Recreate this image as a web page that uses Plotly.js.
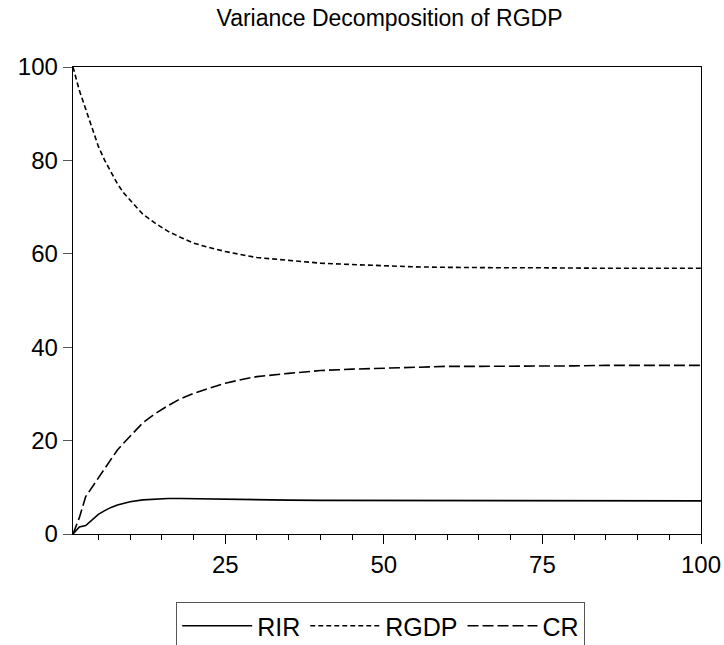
<!DOCTYPE html>
<html>
<head>
<meta charset="utf-8">
<script src="https://cdn.plot.ly/plotly-3.0.1.min.js"></script>
<style>html,body{margin:0;padding:0;background:#fff;}#chart{width:724px;height:645px;}</style>
</head>
<body>
<div id="chart"></div>
<script>
var periods = [1,2,3,4,5,6,7,8,9,10,12,14,16,18,20,22,25,28,30,35,40,45,50,55,60,65,70,75,80,85,90,95,100];
var rir  = [0,1.5,1.8,2.9,4.2,5.0,5.7,6.2,6.6,6.9,7.3,7.5,7.6,7.6,7.55,7.45,7.4,7.35,7.3,7.25,7.2,7.2,7.15,7.1,7.1,7.1,7.1,7.1,7.1,7.1,7.1,7.1,7.1];
var rgdp = [100,95,91,87,83,80,77.5,75,73,71.5,68.5,66.5,64.8,63.5,62.3,61.5,60.5,59.7,59.2,58.6,58.0,57.7,57.4,57.2,57.1,57.0,57.0,57.0,56.9,56.9,56.9,56.9,56.9];
var cr   = [0,3.5,8.0,10.0,12.0,14.0,16.0,18.0,19.5,21.0,23.8,25.8,27.5,29.0,30.1,31.0,32.3,33.2,33.7,34.4,35.0,35.3,35.5,35.7,35.9,35.9,35.9,35.9,36.0,36.1,36.1,36.1,36.1];
var seriesNames = ["RIR","RGDP","CR"];
var xTicks = [25,50,75,100];
var yTicks = [0,20,40,60,80,100];

var FONT = "Liberation Sans, Arial, sans-serif";
var traces = [
  {x: periods, y: rir, name: seriesNames[0], mode: "lines", line: {color: "#000", width: 1.6, dash: "solid"}},
  {x: periods, y: rgdp, name: seriesNames[1], mode: "lines", line: {color: "#000", width: 1.6, dash: "5px,3px"}},
  {x: periods, y: cr, name: seriesNames[2], mode: "lines", line: {color: "#000", width: 1.6, dash: "11px,4px"}}
];
var layout = {
  width: 724, height: 645,
  margin: {l: 73, r: 23, t: 67, b: 111},
  paper_bgcolor: "#fff", plot_bgcolor: "#fff",
  font: {family: FONT, color: "#000", size: 24},
  title: {text: "Variance Decomposition of RGDP", font: {family: FONT, size: 23, color: "#000"},
          x: 0.538, xanchor: "center", y: 0.972, yanchor: "middle"},
  xaxis: {range: [1, 100], tickvals: xTicks, ticktext: xTicks.map(String),
          ticks: "outside", ticklen: 9, tickcolor: "#000", tickwidth: 1,
          minor: {dtick: 5, tick0: 0, ticks: "outside", ticklen: 5, tickcolor: "#000", tickwidth: 1, showgrid: false},
          showline: true, mirror: true, linecolor: "#000", linewidth: 1.3,
          showgrid: false, zeroline: false, tickfont: {size: 24}},
  yaxis: {range: [0, 100], tickvals: yTicks, ticktext: yTicks.map(String),
          ticks: "outside", ticklen: 9, tickcolor: "#555", tickwidth: 1,
          showline: true, mirror: true, linecolor: "#000", linewidth: 1.3,
          showgrid: false, zeroline: false, tickfont: {size: 24}},
  showlegend: true,
  legend: {orientation: "h", x: 0.490, xanchor: "center", xref: "paper",
           y: 43/645, yref: "container", yanchor: "top",
           bordercolor: "#555", borderwidth: 1, font: {size: 25}, itemwidth: 70,
           traceorder: "normal"}
};
Plotly.newPlot("chart", traces, layout, {staticPlot: true, displayModeBar: false});
</script>
</body>
</html>
